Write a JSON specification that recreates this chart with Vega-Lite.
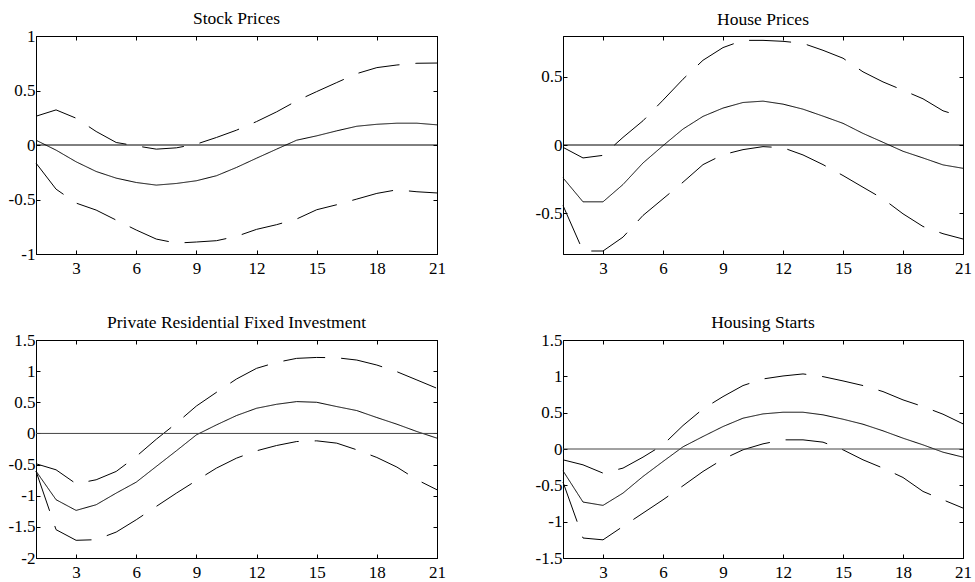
{
  "$schema": "https://vega.github.io/schema/vega-lite/v6.json",
  "background": "white",
  "padding": {"left": 7, "top": 9, "right": 5, "bottom": 5},
  "config": {
    "font": "Liberation Serif",
    "view": {"stroke": "black", "strokeWidth": 1},
    "axis": {"domainColor": "black", "domainWidth": 1, "tickColor": "black", "tickSize": -4, "tickWidth": 1, "labelFont": "Liberation Serif", "labelFontSize": 17, "labelColor": "black", "grid": false, "title": null, "labelFlush": false, "labelOverlap": false},
    "axisX": {"labelPadding": 10},
    "axisY": {"labelPadding": 5},
    "title": {"font": "Liberation Serif", "fontSize": 17.5, "fontWeight": "normal", "color": "black", "frame": "group", "baseline": "alphabetic"}
  },
  "datasets": {
    "irf": [
      {"panel":"S","h":1,"lower":-0.166,"mid":0.044,"upper":0.264},
      {"panel":"S","h":2,"lower":-0.405,"mid":-0.047,"upper":0.322},
      {"panel":"S","h":3,"lower":-0.533,"mid":-0.154,"upper":0.246},
      {"panel":"S","h":4,"lower":-0.597,"mid":-0.243,"upper":0.124},
      {"panel":"S","h":5,"lower":-0.689,"mid":-0.304,"upper":0.023},
      {"panel":"S","h":6,"lower":-0.78,"mid":-0.344,"upper":-0.008},
      {"panel":"S","h":7,"lower":-0.863,"mid":-0.368,"upper":-0.038},
      {"panel":"S","h":8,"lower":-0.9,"mid":-0.353,"upper":-0.026},
      {"panel":"S","h":9,"lower":-0.89,"mid":-0.328,"upper":0.008},
      {"panel":"S","h":10,"lower":-0.878,"mid":-0.282,"upper":0.069},
      {"panel":"S","h":11,"lower":-0.838,"mid":-0.206,"upper":0.136},
      {"panel":"S","h":12,"lower":-0.774,"mid":-0.121,"upper":0.215},
      {"panel":"S","h":13,"lower":-0.731,"mid":-0.038,"upper":0.304},
      {"panel":"S","h":14,"lower":-0.679,"mid":0.044,"upper":0.405},
      {"panel":"S","h":15,"lower":-0.594,"mid":0.084,"upper":0.49},
      {"panel":"S","h":16,"lower":-0.548,"mid":0.13,"upper":0.573},
      {"panel":"S","h":17,"lower":-0.496,"mid":0.172,"upper":0.655},
      {"panel":"S","h":18,"lower":-0.444,"mid":0.19,"upper":0.71},
      {"panel":"S","h":19,"lower":-0.411,"mid":0.2,"upper":0.734},
      {"panel":"S","h":20,"lower":-0.429,"mid":0.2,"upper":0.75},
      {"panel":"S","h":21,"lower":-0.44,"mid":0.185,"upper":0.752},
      {"panel":"H","h":1,"lower":-0.444,"mid":-0.241,"upper":-0.017},
      {"panel":"H","h":2,"lower":-0.778,"mid":-0.417,"upper":-0.095},
      {"panel":"H","h":3,"lower":-0.778,"mid":-0.417,"upper":-0.076},
      {"panel":"H","h":4,"lower":-0.676,"mid":-0.29,"upper":0.056},
      {"panel":"H","h":5,"lower":-0.517,"mid":-0.132,"upper":0.178},
      {"panel":"H","h":6,"lower":-0.395,"mid":-0.005,"upper":0.329},
      {"panel":"H","h":7,"lower":-0.273,"mid":0.117,"upper":0.483},
      {"panel":"H","h":8,"lower":-0.144,"mid":0.21,"upper":0.622},
      {"panel":"H","h":9,"lower":-0.071,"mid":0.271,"upper":0.715},
      {"panel":"H","h":10,"lower":-0.034,"mid":0.312,"upper":0.768},
      {"panel":"H","h":11,"lower":-0.012,"mid":0.322,"upper":0.768},
      {"panel":"H","h":12,"lower":-0.02,"mid":0.3,"upper":0.761},
      {"panel":"H","h":13,"lower":-0.073,"mid":0.263,"upper":0.746},
      {"panel":"H","h":14,"lower":-0.144,"mid":0.212,"upper":0.695},
      {"panel":"H","h":15,"lower":-0.224,"mid":0.159,"upper":0.637},
      {"panel":"H","h":16,"lower":-0.31,"mid":0.085,"upper":0.537},
      {"panel":"H","h":17,"lower":-0.395,"mid":0.02,"upper":0.463},
      {"panel":"H","h":18,"lower":-0.505,"mid":-0.046,"upper":0.402},
      {"panel":"H","h":19,"lower":-0.598,"mid":-0.095,"upper":0.339},
      {"panel":"H","h":20,"lower":-0.651,"mid":-0.146,"upper":0.251},
      {"panel":"H","h":21,"lower":-0.69,"mid":-0.171,"upper":0.205},
      {"panel":"P","h":1,"lower":-0.605,"mid":-0.605,"upper":-0.487},
      {"panel":"P","h":2,"lower":-1.545,"mid":-1.064,"upper":-0.584},
      {"panel":"P","h":3,"lower":-1.716,"mid":-1.236,"upper":-0.808},
      {"panel":"P","h":4,"lower":-1.706,"mid":-1.145,"upper":-0.744},
      {"panel":"P","h":5,"lower":-1.584,"mid":-0.958,"upper":-0.61},
      {"panel":"P","h":6,"lower":-1.386,"mid":-0.782,"upper":-0.37},
      {"panel":"P","h":7,"lower":-1.172,"mid":-0.53,"upper":-0.093},
      {"panel":"P","h":8,"lower":-0.959,"mid":-0.279,"upper":0.163},
      {"panel":"P","h":9,"lower":-0.756,"mid":-0.023,"upper":0.44},
      {"panel":"P","h":10,"lower":-0.557,"mid":0.137,"upper":0.66},
      {"panel":"P","h":11,"lower":-0.397,"mid":0.287,"upper":0.874},
      {"panel":"P","h":12,"lower":-0.279,"mid":0.404,"upper":1.045},
      {"panel":"P","h":13,"lower":-0.194,"mid":0.468,"upper":1.141},
      {"panel":"P","h":14,"lower":-0.13,"mid":0.511,"upper":1.205},
      {"panel":"P","h":15,"lower":-0.119,"mid":0.5,"upper":1.22},
      {"panel":"P","h":16,"lower":-0.156,"mid":0.431,"upper":1.215},
      {"panel":"P","h":17,"lower":-0.263,"mid":0.367,"upper":1.178},
      {"panel":"P","h":18,"lower":-0.386,"mid":0.255,"upper":1.098},
      {"panel":"P","h":19,"lower":-0.54,"mid":0.148,"upper":0.991},
      {"panel":"P","h":20,"lower":-0.744,"mid":0.03,"upper":0.858},
      {"panel":"P","h":21,"lower":-0.905,"mid":-0.076,"upper":0.724},
      {"panel":"HS","h":1,"lower":-0.456,"mid":-0.3,"upper":-0.149},
      {"panel":"HS","h":2,"lower":-1.225,"mid":-0.73,"upper":-0.218},
      {"panel":"HS","h":3,"lower":-1.25,"mid":-0.776,"upper":-0.332},
      {"panel":"HS","h":4,"lower":-1.065,"mid":-0.607,"upper":-0.263},
      {"panel":"HS","h":5,"lower":-0.882,"mid":-0.378,"upper":-0.112},
      {"panel":"HS","h":6,"lower":-0.699,"mid":-0.172,"upper":0.057},
      {"panel":"HS","h":7,"lower":-0.506,"mid":0.03,"upper":0.323},
      {"panel":"HS","h":8,"lower":-0.309,"mid":0.172,"upper":0.552},
      {"panel":"HS","h":9,"lower":-0.14,"mid":0.309,"upper":0.721},
      {"panel":"HS","h":10,"lower":-0.011,"mid":0.424,"upper":0.873},
      {"panel":"HS","h":11,"lower":0.071,"mid":0.483,"upper":0.964},
      {"panel":"HS","h":12,"lower":0.126,"mid":0.506,"upper":1.005},
      {"panel":"HS","h":13,"lower":0.126,"mid":0.506,"upper":1.033},
      {"panel":"HS","h":14,"lower":0.094,"mid":0.47,"upper":0.996},
      {"panel":"HS","h":15,"lower":-0.011,"mid":0.41,"upper":0.937},
      {"panel":"HS","h":16,"lower":-0.149,"mid":0.341,"upper":0.873},
      {"panel":"HS","h":17,"lower":-0.263,"mid":0.25,"upper":0.79},
      {"panel":"HS","h":18,"lower":-0.392,"mid":0.149,"upper":0.676},
      {"panel":"HS","h":19,"lower":-0.584,"mid":0.057,"upper":0.584},
      {"panel":"HS","h":20,"lower":-0.699,"mid":-0.044,"upper":0.479},
      {"panel":"HS","h":21,"lower":-0.813,"mid":-0.112,"upper":0.346}
    ],
    "zero": [{"h0": 1, "h1": 21, "v": 0}]
  },
  "columns": 2,
  "bounds": "flush",
  "spacing": {"row": 86, "column": 126},
  "concat": [
    {
      "width": 401, "height": 218,
      "title": {"text": "Stock Prices", "offset": -0.5},
      "layer": [
        {
          "data": {"name": "irf"},
          "transform": [{"filter": "datum.panel === 'S'"}, {"fold": ["lower", "mid", "upper"], "as": ["band", "v"]}],
          "mark": {"type": "line", "color": "black", "strokeWidth": 1},
          "encoding": {
            "x": {"field": "h", "type": "quantitative", "scale": {"domain": [1, 21], "nice": false, "zero": false}, "axis": {"orient": "bottom", "values": [3, 6, 9, 12, 15, 18, 21], "labelExpr": "toString(datum.value)"}},
            "y": {"field": "v", "type": "quantitative", "scale": {"domain": [-1, 1], "nice": false, "zero": false}, "axis": {"orient": "left", "values": [-1, -0.5, 0, 0.5, 1], "labelExpr": "toString(datum.value)"}},
            "detail": {"field": "band"},
            "strokeDash": {"field": "band", "type": "nominal", "scale": {"domain": ["lower", "mid", "upper"], "range": [[42, 16], [1, 0], [42, 16]]}, "legend": null}
          }
        },
        {
          "data": {"name": "zero"},
          "mark": {"type": "rule", "color": "black", "strokeWidth": 1},
          "encoding": {
            "x": {"field": "h0", "type": "quantitative", "scale": {"domain": [1, 21], "nice": false, "zero": false}, "axis": {"orient": "top", "values": [3, 6, 9, 12, 15, 18, 21], "labels": false}},
            "x2": {"field": "h1"},
            "y": {"field": "v", "type": "quantitative", "scale": {"domain": [-1, 1], "nice": false, "zero": false}, "axis": {"orient": "right", "values": [-1, -0.5, 0, 0.5, 1], "labels": false}}
          }
        }
      ],
      "resolve": {"axis": {"x": "independent", "y": "independent"}}
    },
    {
      "width": 400, "height": 218,
      "title": {"text": "House Prices", "offset": 7.5},
      "layer": [
        {
          "data": {"name": "irf"},
          "transform": [{"filter": "datum.panel === 'H'"}, {"fold": ["lower", "mid", "upper"], "as": ["band", "v"]}],
          "mark": {"type": "line", "color": "black", "strokeWidth": 1},
          "encoding": {
            "x": {"field": "h", "type": "quantitative", "scale": {"domain": [1, 21], "nice": false, "zero": false}, "axis": {"orient": "bottom", "values": [3, 6, 9, 12, 15, 18, 21], "labelExpr": "toString(datum.value)"}},
            "y": {"field": "v", "type": "quantitative", "scale": {"domain": [-0.8, 0.8], "nice": false, "zero": false}, "axis": {"orient": "left", "values": [-0.5, 0, 0.5], "labelExpr": "toString(datum.value)"}},
            "detail": {"field": "band"},
            "strokeDash": {"field": "band", "type": "nominal", "scale": {"domain": ["lower", "mid", "upper"], "range": [[42, 16], [1, 0], [42, 16]]}, "legend": null}
          }
        },
        {
          "data": {"name": "zero"},
          "mark": {"type": "rule", "color": "black", "strokeWidth": 1},
          "encoding": {
            "x": {"field": "h0", "type": "quantitative", "scale": {"domain": [1, 21], "nice": false, "zero": false}, "axis": {"orient": "top", "values": [3, 6, 9, 12, 15, 18, 21], "labels": false}},
            "x2": {"field": "h1"},
            "y": {"field": "v", "type": "quantitative", "scale": {"domain": [-0.8, 0.8], "nice": false, "zero": false}, "axis": {"orient": "right", "values": [-0.5, 0, 0.5], "labels": false}}
          }
        }
      ],
      "resolve": {"axis": {"x": "independent", "y": "independent"}}
    },
    {
      "width": 401, "height": 218,
      "title": {"text": "Private Residential Fixed Investment", "offset": -0.5},
      "layer": [
        {
          "data": {"name": "irf"},
          "transform": [{"filter": "datum.panel === 'P'"}, {"fold": ["lower", "mid", "upper"], "as": ["band", "v"]}],
          "mark": {"type": "line", "color": "black", "strokeWidth": 1},
          "encoding": {
            "x": {"field": "h", "type": "quantitative", "scale": {"domain": [1, 21], "nice": false, "zero": false}, "axis": {"orient": "bottom", "values": [3, 6, 9, 12, 15, 18, 21], "labelExpr": "toString(datum.value)"}},
            "y": {"field": "v", "type": "quantitative", "scale": {"domain": [-2, 1.5], "nice": false, "zero": false}, "axis": {"orient": "left", "values": [-2, -1.5, -1, -0.5, 0, 0.5, 1, 1.5], "labelExpr": "toString(datum.value)"}},
            "detail": {"field": "band"},
            "strokeDash": {"field": "band", "type": "nominal", "scale": {"domain": ["lower", "mid", "upper"], "range": [[42, 16], [1, 0], [42, 16]]}, "legend": null}
          }
        },
        {
          "data": {"name": "zero"},
          "mark": {"type": "rule", "color": "#444444", "strokeWidth": 1},
          "encoding": {
            "x": {"field": "h0", "type": "quantitative", "scale": {"domain": [1, 21], "nice": false, "zero": false}, "axis": {"orient": "top", "values": [3, 6, 9, 12, 15, 18, 21], "labels": false}},
            "x2": {"field": "h1"},
            "y": {"field": "v", "type": "quantitative", "scale": {"domain": [-2, 1.5], "nice": false, "zero": false}, "axis": {"orient": "right", "values": [-2, -1.5, -1, -0.5, 0, 0.5, 1, 1.5], "labels": false}}
          }
        }
      ],
      "resolve": {"axis": {"x": "independent", "y": "independent"}}
    },
    {
      "width": 400, "height": 218,
      "title": {"text": "Housing Starts", "offset": -0.5},
      "layer": [
        {
          "data": {"name": "irf"},
          "transform": [{"filter": "datum.panel === 'HS'"}, {"fold": ["lower", "mid", "upper"], "as": ["band", "v"]}],
          "mark": {"type": "line", "color": "black", "strokeWidth": 1},
          "encoding": {
            "x": {"field": "h", "type": "quantitative", "scale": {"domain": [1, 21], "nice": false, "zero": false}, "axis": {"orient": "bottom", "values": [3, 6, 9, 12, 15, 18, 21], "labelExpr": "toString(datum.value)"}},
            "y": {"field": "v", "type": "quantitative", "scale": {"domain": [-1.5, 1.5], "nice": false, "zero": false}, "axis": {"orient": "left", "values": [-1.5, -1, -0.5, 0, 0.5, 1, 1.5], "labelExpr": "toString(datum.value)"}},
            "detail": {"field": "band"},
            "strokeDash": {"field": "band", "type": "nominal", "scale": {"domain": ["lower", "mid", "upper"], "range": [[42, 16], [1, 0], [42, 16]]}, "legend": null}
          }
        },
        {
          "data": {"name": "zero"},
          "mark": {"type": "rule", "color": "#444444", "strokeWidth": 1},
          "encoding": {
            "x": {"field": "h0", "type": "quantitative", "scale": {"domain": [1, 21], "nice": false, "zero": false}, "axis": {"orient": "top", "values": [3, 6, 9, 12, 15, 18, 21], "labels": false}},
            "x2": {"field": "h1"},
            "y": {"field": "v", "type": "quantitative", "scale": {"domain": [-1.5, 1.5], "nice": false, "zero": false}, "axis": {"orient": "right", "values": [-1.5, -1, -0.5, 0, 0.5, 1, 1.5], "labels": false}}
          }
        }
      ],
      "resolve": {"axis": {"x": "independent", "y": "independent"}}
    }
  ]
}
